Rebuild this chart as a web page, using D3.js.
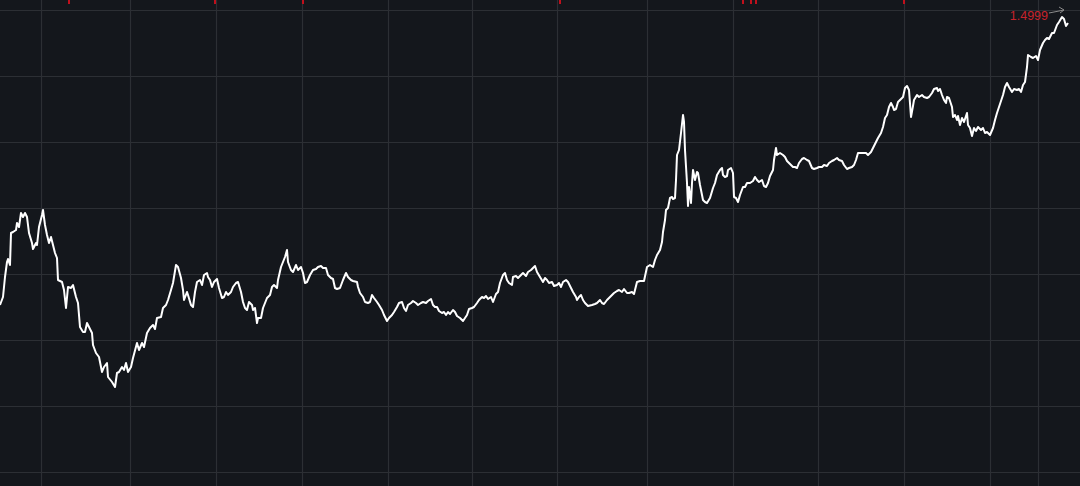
<!DOCTYPE html>
<html>
<head>
<meta charset="utf-8">
<script src="https://cdn.jsdelivr.net/npm/d3@7"></script>
<style>
  html, body { margin: 0; padding: 0; background: #14171c; }
  svg { display: block; }
</style>
</head>
<body>
<div id="chart"></div>
<script>
// trading-day index of each sample
const days = [
0,0.75,1.25,1.75,2,2.5,2.75,3.25,4,4.25,4.75,5.25,5.75,6.25,6.75,7.25,8,8.25,9,9.25,9.75,10.5,10.75,11.25,11.75,12.25,12.75,13.25,13.75,14.25,14.5,15.5,16,16.5,17,17.75,18.25,19,19.5,20,20.75,21.25,21.75,22.25,23,23.25,24,24.75,25.5,26,26.75,27,28,28.75,29.25,29.75,30.5,31,31.5,32,32.75,33.25,34.25,34.75,35.5,36,36.75,37.5,38.25,38.75,39.25,40.25,40.75,41.5,42,42.75,43.25,
44,44.5,45.25,45.75,46,46.75,47,47.75,48.25,48.75,49.25,50,50.5,51,51.75,52,52.5,53,53.5,54.25,54.75,55.5,56,56.5,57,57.75,58.25,59,59.5,60.25,60.75,61.25,61.75,62.25,63,63.25,63.75,64.25,64.5,65.25,65.75,66.25,66.75,67.5,68,68.5,69.25,69.5,70.25,70.75,71.25,71.75,72,72.75,73.25,74,74.5,75.25,75.75,76.25,76.75,77.5,78.25,79,79.5,80.25,80.75,81.5,82,82.75,83.25,83.75,84.25,85,85.75,86.5,87,
87.75,88.25,89.25,89.5,90,90.75,91.25,92,92.5,93,93.5,94.25,94.75,95.5,96,96.75,97.25,98,98.5,99.25,99.75,100.5,101,101.5,102,102.75,103.25,104,104.5,105.25,105.75,106.5,107,107.75,108.25,108.75,109.25,109.75,110.5,111,111.5,112,112.5,113.25,113.75,114.25,115,115.75,116.25,116.75,117.25,118,118.5,119.25,119.75,120.5,121,121.5,122,122.75,123.25,124,124.5,125,125.75,126.25,126.75,127.25,128,128.25,129,129.5,130.25,130.75,131.5,132,132.75,133.25,133.75,134.25,
135,135.75,136.25,136.75,137.25,138,138.5,139.25,139.75,140.25,140.75,141.5,142,142.75,143.25,144,144.25,144.75,145.25,145.75,146.25,147,148,148.75,149.25,150,150.5,151,151.75,152.25,153,153.5,154.25,154.75,155.5,156,156.75,157.25,158,158.5,159.25,160,161,161.75,162.5,163.25,163.75,164.25,165,165.5,165.75,166.25,166.5,167,167.5,168,168.25,168.75,169,169.25,169.75,170.25,170.75,171,171.25,171.75,172,172.25,172.75,173,173.25,173.75,174.25,174.5,175,175.75,176.25,176.75,
177.5,178.25,178.75,179.25,180,180.5,180.75,181.25,181.75,182,182.75,183.25,183.5,184,184.5,185,185.75,186.25,186.75,187.5,188.25,188.75,189.25,189.75,190.5,191,191.5,192,192.5,193.25,193.5,194,194.25,195,195.75,196.25,196.75,197.5,198.25,198.75,199.25,199.75,200.5,201,201.75,202.25,203,203.5,204.25,204.75,205.5,206,206.75,207.25,208,208.5,209.25,209.75,210.5,211,211.75,212.25,213,213.5,214,214.5,215.25,215.75,216.5,217,217.75,218.25,219,219.5,220.25,220.75,221.25,221.75,222.25,222.75,223.25,223.5,224,
224.5,225,225.75,226.25,226.75,227.25,227.75,228.25,228.5,229.25,229.75,230.5,231,231.75,232.25,233,233.5,234.25,234.5,235,235.5,236,236.5,236.75,237.25,238,238.25,238.75,239.25,239.5,240,240.5,241,241.75,242,242.5,243,243.5,244,244.5,245.25,245.75,246.25,246.75,247.5,248.25,248.75,249.25,250,250.75,251.25,251.75,252.25,253,253.5,254.25,254.75,255.25,255.75,256.25,256.75,257,257.75,258.25,259,259.5,260,260.75,261.25,261.75,262.25,263,263.5,264.25,264.75,265.5,266,266.5,267
];
// series values
const values = [
1.2119,1.2199,1.2399,1.2549,1.2579,1.2519,1.2839,1.2849,1.2869,1.2939,1.2899,1.3039,1.2999,1.3039,1.2999,1.2839,1.2739,1.2679,1.2739,1.2719,1.2899,1.3019,1.3069,1.2919,1.2819,1.2739,1.2799,1.2719,1.2639,1.2589,1.2369,1.2349,1.2269,1.2089,1.2299,1.2289,1.2319,1.2199,1.2139,1.1899,1.1849,1.1849,1.1939,1.1899,1.1839,1.1719,1.1639,1.1599,1.1449,1.1499,1.1539,1.1399,1.1349,1.1299,1.1439,1.1449,1.1499,1.1469,1.1539,1.1449,1.1499,1.1589,1.1739,1.1669,1.1739,1.1699,1.1839,1.1889,1.1919,1.1879,1.1989,1.1999,1.2089,1.2119,1.2169,1.2269,1.2339,
1.2519,1.2499,1.2389,1.2269,1.2169,1.2249,1.2219,1.2119,1.2099,1.2249,1.2349,1.2369,1.2319,1.2419,1.2439,1.2399,1.2369,1.2299,1.2349,1.2379,1.2289,1.2189,1.2199,1.2249,1.2219,1.2249,1.2299,1.2339,1.2349,1.2249,1.2149,1.2089,1.2069,1.2149,1.2119,1.2069,1.2089,1.1939,1.1989,1.1989,1.2089,1.2139,1.2189,1.2219,1.2299,1.2319,1.2289,1.2369,1.2499,1.2549,1.2599,1.2669,1.2549,1.2469,1.2449,1.2519,1.2469,1.2499,1.2439,1.2339,1.2349,1.2419,1.2469,1.2479,1.2499,1.2509,1.2489,1.2489,1.2419,1.2389,1.2379,1.2289,1.2279,1.2289,1.2369,1.2439,1.2399,
1.2369,1.2359,1.2349,1.2299,1.2239,1.2199,1.2149,1.2139,1.2149,1.2219,1.2189,1.2149,1.2119,1.2069,1.2019,1.1959,1.1989,1.2019,1.2049,1.2099,1.2139,1.2149,1.2089,1.2059,1.2119,1.2139,1.2159,1.2139,1.2119,1.2139,1.2149,1.2139,1.2159,1.2179,1.2119,1.2099,1.2099,1.2059,1.2039,1.2049,1.2019,1.2049,1.2029,1.2069,1.2049,1.2009,1.1989,1.1959,1.1989,1.2019,1.2079,1.2089,1.2099,1.2139,1.2169,1.2199,1.2189,1.2209,1.2179,1.2199,1.2149,1.2229,1.2249,1.2339,1.2419,1.2439,1.2369,1.2339,1.2319,1.2399,1.2409,1.2389,1.2419,1.2439,1.2409,1.2449,1.2469,1.2489,1.2509,1.2449,
1.2399,1.2349,1.2389,1.2369,1.2339,1.2349,1.2309,1.2319,1.2339,1.2299,1.2349,1.2369,1.2349,1.2289,1.2249,1.2199,1.2169,1.2199,1.2219,1.2169,1.2139,1.2109,1.2119,1.2129,1.2139,1.2169,1.2139,1.2129,1.2169,1.2189,1.2219,1.2239,1.2259,1.2269,1.2249,1.2279,1.2239,1.2239,1.2249,1.2229,1.2349,1.2359,1.2359,1.2499,1.2519,1.2499,1.2569,1.2619,1.2669,1.2749,1.2849,1.2969,1.3069,1.3089,1.3189,1.3199,1.3179,1.3189,1.3369,1.3619,1.3669,1.3839,1.4019,1.3949,1.3669,1.3339,1.3109,1.3299,1.3139,1.3339,1.3469,1.3369,1.3449,1.3439,1.3319,1.3169,1.3149,1.3139,
1.3189,1.3289,1.3339,1.3419,1.3469,1.3489,1.3419,1.3399,1.3409,1.3469,1.3489,1.3439,1.3199,1.3189,1.3149,1.3219,1.3299,1.3299,1.3339,1.3339,1.3359,1.3399,1.3369,1.3349,1.3369,1.3309,1.3299,1.3339,1.3409,1.3469,1.3569,1.3689,1.3619,1.3639,1.3619,1.3599,1.3559,1.3529,1.3499,1.3499,1.3489,1.3539,1.3579,1.3589,1.3569,1.3559,1.3489,1.3479,1.3489,1.3499,1.3499,1.3519,1.3509,1.3539,1.3559,1.3569,1.3589,1.3569,1.3559,1.3519,1.3479,1.3489,1.3499,1.3519,1.3569,1.3639,1.3639,1.3639,1.3639,1.3619,1.3649,1.3689,1.3749,1.3789,1.3839,1.3899,1.3989,1.4019,1.4099,1.4139,1.4099,1.4069,1.4079,
1.4149,1.4169,1.4199,1.4289,1.4309,1.4269,1.3999,1.4109,1.4169,1.4219,1.4199,1.4219,1.4199,1.4189,1.4199,1.4239,1.4279,1.4289,1.4259,1.4279,1.4219,1.4169,1.4139,1.4199,1.4189,1.4099,1.3999,1.4019,1.3969,1.4009,1.3919,1.3989,1.3949,1.4039,1.3919,1.3889,1.3809,1.3889,1.3859,1.3899,1.3869,1.3889,1.3839,1.3849,1.3819,1.3889,1.3969,1.4039,1.4129,1.4219,1.4299,1.4339,1.4299,1.4249,1.4279,1.4269,1.4279,1.4249,1.4319,1.4349,1.4499,1.4619,1.4599,1.4589,1.4609,1.4569,1.4669,1.4739,1.4769,1.4789,1.4779,1.4839,1.4839,1.4919,1.4949,1.4999,1.4979,1.4909,1.4939
];
// period boundaries (vertical grid) in trading days
const periodTicks = [10.25, 32.5, 54, 75.5, 97, 118, 139.25, 161.75, 183.25, 204.5, 226, 247.5, 259.5];
// horizontal grid levels
const levelTicks = [1.5069, 1.4409, 1.3749, 1.3089, 1.2429, 1.1769, 1.1109, 1.0449];
// event markers along the top edge
const eventDays = [17.25, 53.75, 75.75, 140, 185.75, 187.75, 189, 226];
const maxLabel = "1.4999";

const W = 1080, H = 486;
const x = d3.scaleLinear().domain([0, 270]).range([0, W]);
const y = d3.scaleLinear().domain([1.0309, 1.5169]).range([H, 0]);

const svg = d3.select("#chart").append("svg").attr("width", W).attr("height", H);
svg.append("rect").attr("width", W).attr("height", H).attr("fill", "#14171c");

const grid = svg.append("g").attr("stroke", "#2c2f34").attr("stroke-width", 1.2);
grid.selectAll("line.v").data(periodTicks).join("line").attr("class", "v")
  .attr("x1", d => Math.round(x(d)) + 0.5).attr("x2", d => Math.round(x(d)) + 0.5)
  .attr("y1", 0).attr("y2", H);
grid.selectAll("line.h").data(levelTicks).join("line").attr("class", "h")
  .attr("y1", d => Math.round(y(d)) + 0.5).attr("y2", d => Math.round(y(d)) + 0.5)
  .attr("x1", 0).attr("x2", W);

svg.append("g").selectAll("rect").data(eventDays).join("rect")
  .attr("x", d => x(d) - 1).attr("y", 0).attr("width", 2).attr("height", 4)
  .attr("fill", "#c0101c");

const pts = days.map((d, i) => [d, values[i]]);
const line = d3.line().x(d => x(d[0])).y(d => y(d[1]));
svg.append("path").datum(pts).attr("d", line)
  .attr("fill", "none").attr("stroke", "#ffffff").attr("stroke-width", 2)
  .attr("stroke-linejoin", "round");

// max marker
const iMax = d3.maxIndex(values);
const mx = x(days[iMax]), my = y(values[iMax]);
svg.append("text").attr("x", mx - 14).attr("y", my + 3)
  .attr("text-anchor", "end").attr("fill", "#c8232c")
  .attr("font-family", "'Liberation Sans', Arial, sans-serif").attr("font-size", 12.5)
  .text(maxLabel);
const ax0 = mx - 13, ay0 = my - 4, ax1 = mx + 2, ay1 = my - 7;
svg.append("path")
  .attr("d", `M${ax0},${ay0}L${ax1},${ay1}M${ax1 - 5},${ay1 - 3}L${ax1},${ay1}L${ax1 - 4},${ay1 + 3}`)
  .attr("fill", "none").attr("stroke", "#8a8a8a").attr("stroke-width", 1);
</script>
</body>
</html>
